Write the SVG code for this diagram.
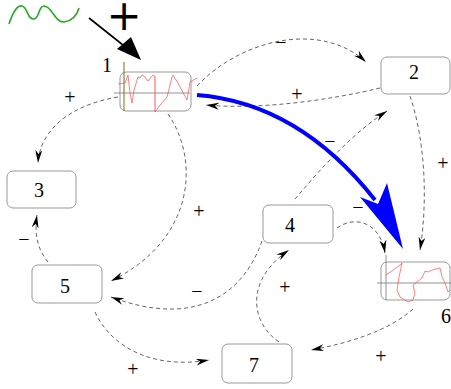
<svg xmlns="http://www.w3.org/2000/svg" width="451" height="389" viewBox="0 0 451 389">
<defs>
<marker id="ah" markerUnits="userSpaceOnUse" markerWidth="14" markerHeight="8" refX="13" refY="3.5" orient="auto">
<path d="M0,0 L13,3.5 L0,7 L4,3.5 z" fill="#000"/>
</marker>
</defs>
<style>
.box{fill:#fff;stroke:#999;stroke-width:1}
.lbl{font-family:"Liberation Serif",serif;font-size:20px;fill:#000;text-anchor:middle}
.sg{font-family:"Liberation Serif",serif;font-size:20px;fill:#000;text-anchor:middle}
.c{fill:none;stroke:#555;stroke-width:0.9;stroke-dasharray:4,3;marker-end:url(#ah)}
.plot{fill:none;stroke:#f44;stroke-width:0.8;stroke-opacity:0.85}
.axis{stroke:#777;stroke-width:0.8}
.big{font-family:"DejaVu Sans",sans-serif;font-size:42px;text-anchor:middle}
</style>
<rect width="451" height="389" fill="#fff"/>

<g id="input">
<path d="M9,24 C13,12 17,5 22,6 C28,7 27,20 34,19 C40,18 38,6 44,6 C52,6 55,23 64,22 C72,21 77,15 79,8" fill="none" stroke="#2a2" stroke-width="1.6"/>
<text class="big" x="124" y="30">+</text>
<line x1="89" y1="18" x2="128" y2="49" stroke="#000" stroke-width="1.6"/>
<polygon points="141,60 117,49 131,37" fill="#000"/>
</g>

<g id="connectors">
<path class="c" d="M197,86 C240,40 320,20 366,62"/>
<path class="c" d="M380,88 C330,100 260,110 206,105"/>
<path class="c" d="M118,97 C70,105 40,130 38,163"/>
<path class="c" d="M168,114 C200,160 195,240 111,281"/>
<path class="c" d="M48,262 C38,250 34,235 37,215"/>
<path class="c" d="M262,241 C245,290 200,330 111,297"/>
<path class="c" d="M279,342 C250,322 245,280 289,250"/>
<path class="c" d="M95,312 C110,345 150,370 209,360"/>
<path class="c" d="M413,309 C390,330 350,343 311,350"/>
<path class="c" d="M410,96 C425,140 428,200 420,250"/>
<path class="c" d="M295,199 C320,170 350,135 387,111"/>
<path class="c" d="M337,228 C355,215 380,222 385,253"/>
<path d="M197,95 C260,100 320,130 375,200" fill="none" stroke="#00f" stroke-width="4"/>
<polygon points="403,249 360,197 378,204 387,183" fill="#00f"/>
</g>

<g id="signs">
<text class="sg" x="281" y="49">−</text>
<text class="sg" x="297" y="101">+</text>
<text class="sg" x="70" y="104">+</text>
<text class="sg" x="199" y="218">+</text>
<text class="sg" x="24" y="246">−</text>
<text class="sg" x="197" y="298">−</text>
<text class="sg" x="285" y="294">+</text>
<text class="sg" x="133" y="376">+</text>
<text class="sg" x="381" y="363">+</text>
<text class="sg" x="443" y="170">+</text>
<text class="sg" x="330" y="148">−</text>
<text class="sg" x="358" y="214">−</text>
</g>

<g id="node1">
<rect class="box" x="120" y="72" width="71" height="39" rx="6"/>
<line class="axis" x1="114" y1="93" x2="190" y2="93"/>
<line x1="124" y1="62" x2="124" y2="111" stroke="#7a6a20" stroke-width="1"/>
<line x1="155" y1="75" x2="155" y2="112" stroke="#f99" stroke-width="0.6"/>
<polyline class="plot" points="118,84 125,83 128,75 130,93 132,103 134,90 137,80 138,77 140,78 142,75 145,77 148,81 153,75 155,77 155,112 160,105 167,97 172,77 173,75 178,83 187,100 190,82 197,78"/>
<text class="lbl" x="107" y="72">1</text>
</g>

<g id="node2">
<rect class="box" x="381" y="57" width="69" height="37" rx="6"/>
<text class="lbl" x="414" y="79">2</text>
</g>

<g id="node3">
<rect class="box" x="7" y="171" width="69" height="37" rx="6"/>
<text class="lbl" x="39" y="197">3</text>
</g>

<g id="node4">
<rect class="box" x="263" y="205" width="70" height="38" rx="6"/>
<text class="lbl" x="290" y="232">4</text>
</g>

<g id="node5">
<rect class="box" x="32" y="265" width="70" height="38" rx="6"/>
<text class="lbl" x="65" y="293">5</text>
</g>

<g id="node6">
<rect class="box" x="381" y="262" width="69" height="38" rx="6"/>
<line class="axis" x1="377" y1="283" x2="451" y2="283"/>
<line class="axis" x1="386" y1="255" x2="386" y2="300"/>
<polyline class="plot" points="386,275 393,270 400,265 402,263 399,277 397,290 400,297 408,302 413,300 415,293 413,285 417,282 422,278 425,271 428,272 432,270 440,268 442,277 445,283 448,292 450,290"/>
<text class="lbl" x="446" y="323">6</text>
</g>

<g id="node7">
<rect class="box" x="222" y="344" width="70" height="39" rx="6"/>
<text class="lbl" x="254" y="372">7</text>
</g>
</svg>
